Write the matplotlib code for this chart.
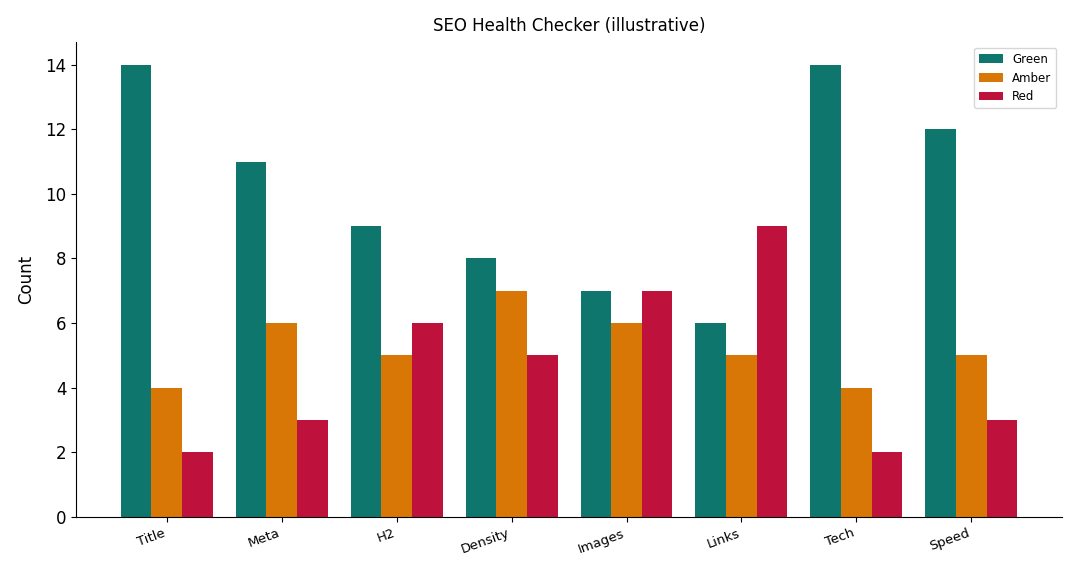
import numpy as np
import matplotlib
matplotlib.use("Agg")
import matplotlib.pyplot as plt

categories = ["Title", "Meta", "H2", "Density", "Images", "Links", "Tech", "Speed"]
green = [14, 11, 9, 8, 7, 6, 14, 12]
amber = [4, 6, 5, 7, 6, 5, 4, 5]
red = [2, 3, 6, 5, 7, 9, 2, 3]

fig = plt.figure(figsize=(10.8, 5.76), dpi=100)
ax = fig.add_axes([0.0704, 0.1024, 0.9130, 0.8247])

x = np.arange(len(categories))
w = 0.8 / 3
ax.bar(x - w, green, w, color="#0f766e", label="Green")
ax.bar(x, amber, w, color="#d97706", label="Amber")
ax.bar(x + w, red, w, color="#be123c", label="Red")

ax.set_xticks(x)
ax.set_xticklabels(categories, rotation=20, ha="right", fontsize=9.5)
ax.tick_params(axis="y", labelsize=12)
ax.set_ylabel("Count", fontsize=12, labelpad=7)
ax.set_title("SEO Health Checker (illustrative)", fontsize=12, pad=8)
ax.spines["top"].set_visible(False)
ax.spines["right"].set_visible(False)
ax.legend(loc="upper right", fontsize=8.5)

fig.savefig("out.png", dpi=100)
